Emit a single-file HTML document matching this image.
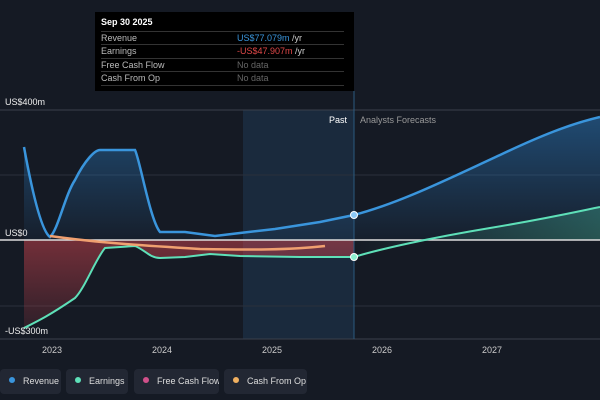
<!DOCTYPE html>
<html><head><style>
body{margin:0;background:#151a24;width:600px;height:400px;overflow:hidden;font-family:"Liberation Sans",sans-serif;position:relative}
.tt{position:absolute;left:95px;top:12px;width:259px;height:79px;background:#000;color:#bbb;font-size:9px}
.tt .h{position:absolute;left:6px;top:5px;color:#fff;font-weight:bold}
.row{position:absolute;left:6px;width:243px;border-top:1px solid #333;height:13px;line-height:13px}
.row span{position:absolute;left:136px}
.pill{position:absolute;top:369px;height:25px;background:#222733;border-radius:4px;color:#ddd;font-size:9px;line-height:25px;white-space:nowrap;overflow:hidden}
.pill i{display:inline-block;width:6px;height:6px;border-radius:50%;margin:0 8px 0 9px;vertical-align:1px}
</style></head><body>
<svg width="600" height="400" style="position:absolute;left:0;top:0">
<defs>
<linearGradient id="rv" x1="0" y1="0" x2="0" y2="1"><stop offset="0" stop-color="#2b7bc0" stop-opacity=".5"/><stop offset="1" stop-color="#2b7bc0" stop-opacity=".05"/></linearGradient>
<linearGradient id="rd" x1="0" y1="0" x2="0" y2="1"><stop offset="0" stop-color="#c0404a" stop-opacity=".55"/><stop offset="1" stop-color="#c0404a" stop-opacity=".15"/></linearGradient>
<linearGradient id="gr" x1="0" y1="0" x2="1" y2="0"><stop offset="0" stop-color="#4fd1a8" stop-opacity="0"/><stop offset="1" stop-color="#4fd1a8" stop-opacity=".3"/></linearGradient>
</defs>
<rect x="243" y="110" width="111" height="229" fill="#1a2a3d"/>
<line x1="0" y1="110" x2="600" y2="110" stroke="#3a404c"/>
<line x1="0" y1="175" x2="600" y2="175" stroke="#2a303c"/>
<line x1="0" y1="306" x2="600" y2="306" stroke="#2a303c"/>
<line x1="0" y1="339" x2="600" y2="339" stroke="#3a404c"/>
<path d="M24,240 L24,328 C40,320 50,315 75,298 C85,288 95,260 105,248 L135,246 C145,250 150,258 160,258 L185,257 210,254 240,256 300,257 354,257 L354,240Z" fill="url(#rd)"/>
<path d="M24,147 C30,180 40,230 50,237 C58,230 65,195 75,180 C85,160 95,150 100,150 L135,150 C140,160 150,220 160,232 L185,232 215,236 240,233 275,229 320,222 354,215 C400,203 450,178 500,155 C540,136 570,124 600,117 L600,240 L24,240Z" fill="url(#rv)"/>
<path d="M354,240 L354,257 C380,249 430,238 490,228 C550,218 580,211 600,207 L600,240Z" fill="url(#gr)"/>
<line x1="354" y1="91" x2="354" y2="339" stroke="#2b5a80"/>
<line x1="0" y1="240" x2="600" y2="240" stroke="#ddd" stroke-width="1.5"/>
<path d="M24,147 C30,180 40,230 50,237 C58,230 65,195 75,180 C85,160 95,150 100,150 L135,150 C140,160 150,220 160,232 L185,232 215,236 240,233 275,229 320,222 354,215 C400,203 450,178 500,155 C540,136 570,124 600,117" fill="none" stroke="#3a95dc" stroke-width="2.5"/>
<path d="M24,328 C40,320 50,315 75,298 C85,288 95,260 105,248 L135,246 C145,250 150,258 160,258 L185,257 210,254 240,256 300,257 354,257 C380,249 430,238 490,228 C550,218 580,211 600,207" fill="none" stroke="#5ee0b8" stroke-width="2"/>
<path d="M50,236 C100,243 150,246 200,249 C250,250 290,250 325,246" fill="none" stroke="#f0a070" stroke-width="2.5"/>
<circle cx="354" cy="215" r="3.5" fill="#8cc8f5" stroke="#fff"/>
<circle cx="354" cy="257" r="3.5" fill="#8ef0d0" stroke="#fff"/>
<g font-size="9" fill="#eee"><text x="5" y="105">US$400m</text><text x="5" y="236">US$0</text><text x="5" y="334">-US$300m</text></g>
<g font-size="9" fill="#ccc" text-anchor="middle"><text x="52" y="353">2023</text><text x="162" y="353">2024</text><text x="272" y="353">2025</text><text x="382" y="353">2026</text><text x="492" y="353">2027</text></g>
<text x="347" y="123" font-size="9" fill="#fff" text-anchor="end">Past</text>
<text x="360" y="123" font-size="9" fill="#999">Analysts Forecasts</text>
</svg>
<div class="tt"><div class="h">Sep 30 2025</div>
<div class="row" style="top:19px">Revenue<span style="color:#3a95dc">US$77.079m <b style="color:#ccc;font-weight:normal">/yr</b></span></div>
<div class="row" style="top:32px">Earnings<span style="color:#e04848">-US$47.907m <b style="color:#ccc;font-weight:normal">/yr</b></span></div>
<div class="row" style="top:46px">Free Cash Flow<span style="color:#666">No data</span></div>
<div class="row" style="top:59px;border-bottom:1px solid #333">Cash From Op<span style="color:#666">No data</span></div>
</div>
<div class="pill" style="left:0;width:61px"><i style="background:#3a95dc"></i>Revenue</div>
<div class="pill" style="left:66px;width:62px"><i style="background:#5ee0b8"></i>Earnings</div>
<div class="pill" style="left:134px;width:85px"><i style="background:#d0508a"></i>Free Cash Flow</div>
<div class="pill" style="left:224px;width:83px"><i style="background:#f0b060"></i>Cash From Op</div>
</body></html>
